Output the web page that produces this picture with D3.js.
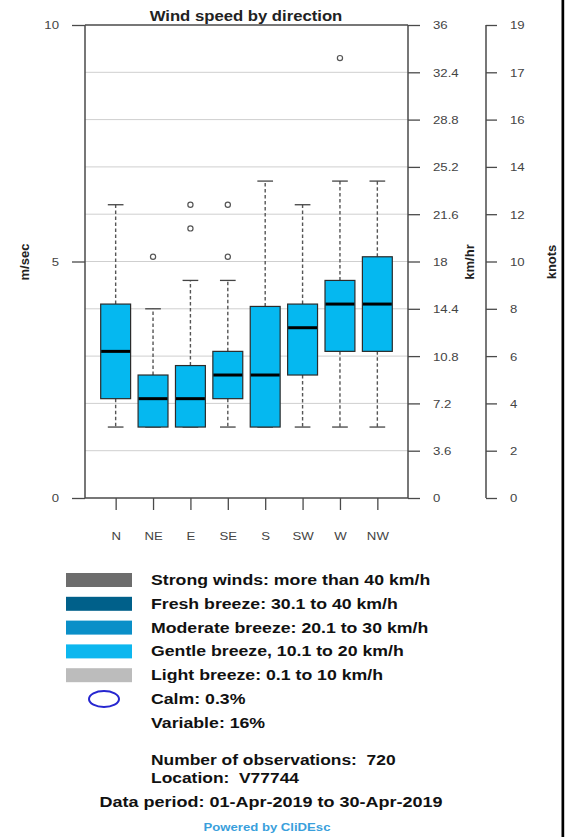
<!DOCTYPE html>
<html>
<head>
<meta charset="utf-8">
<script src="https://cdn.jsdelivr.net/npm/d3@7"></script>
<style>
  html, body { margin: 0; padding: 0; background: #fff; }
  svg { display: block; font-family: "Liberation Sans", Arial, Helvetica, sans-serif; }
  text { white-space: pre; }
</style>
</head>
<body>
<svg id="chart" width="573" height="837"></svg>
<script>
// ---------- data ----------
const categories = ["N", "NE", "E", "SE", "S", "SW", "W", "NW"];
const whiskerLow = [1.5, 1.5, 1.5, 1.5, 1.5, 1.5, 1.5, 1.5];
const q1 = [2.1, 1.5, 1.5, 2.1, 1.5, 2.6, 3.1, 3.1];
const medians = [3.1, 2.1, 2.1, 2.6, 2.6, 3.6, 4.1, 4.1];
const q3 = [4.1, 2.6, 2.8, 3.1, 4.05, 4.1, 4.6, 5.1];
const whiskerHigh = [6.2, 4.0, 4.6, 4.6, 6.7, 6.2, 6.7, 6.7];
const outliers = [[], [5.1], [5.7, 6.2], [5.1, 6.2], [], [], [9.3], []];

const msTicks = [0, 5, 10];
const kmhTickValues = [0, 1, 2, 3, 4, 5, 6, 7, 8, 9, 10];          // in m/s
const kmhTickLabels = ["0", "3.6", "7.2", "10.8", "14.4", "18", "21.6", "25.2", "28.8", "32.4", "36"];
const knotTickLabels = ["0", "2", "4", "6", "8", "10", "12", "14", "16", "17", "19"];

const legendLabels = [
  "Strong winds: more than 40 km/h",
  "Fresh breeze: 30.1 to 40 km/h",
  "Moderate breeze: 20.1 to 30 km/h",
  "Gentle breeze, 10.1 to 20 km/h",
  "Light breeze: 0.1 to 10 km/h"
];
const legendColors = ["#6d6d6d", "#00608a", "#0a8fc8", "#0db7ef", "#bcbcbc"];
const calmText = "Calm: 0.3%";
const variableText = "Variable: 16%";
const obsText = "Number of observations:  720";
const locText = "Location:  V77744";
const periodText = "Data period: 01-Apr-2019 to 30-Apr-2019";
const poweredText = "Powered by CliDEsc";
const titleText = "Wind speed by direction";

// ---------- helpers ----------
function stretch(sel, factor) {
  sel.each(function () {
    const w = this.getComputedTextLength();
    this.setAttribute("textLength", (w * factor).toFixed(1));
    this.setAttribute("lengthAdjust", "spacingAndGlyphs");
  });
  return sel;
}

const svg = d3.select("#chart");
const L = 85, R = 408, T = 25, B = 498;
const x = d3.scaleLinear().domain([0.18, 8.82]).range([L, R]);
const y = d3.scaleLinear().domain([0, 10]).range([B, T]);
const boxW = x(1.8) - x(1);
const stapleW = x(1.42) - x(1);

const axisColor = "#4a4a4a";
const tickColor = "#444";

// gridlines
svg.append("g").selectAll("line").data(kmhTickValues.filter(v => v > 0 && v < 10)).join("line")
  .attr("x1", L).attr("x2", R).attr("y1", d => y(d)).attr("y2", d => y(d))
  .attr("stroke", "#cfcfcf").attr("stroke-width", 1);

// boxes
const data = categories.map((c, i) => ({
  c, i: i + 1, lo: whiskerLow[i], q1: q1[i], med: medians[i], q3: q3[i], hi: whiskerHigh[i], out: outliers[i]
}));
const g = svg.append("g");
const bx = g.selectAll("g.box").data(data).join("g").attr("class", "box");
// whiskers
bx.append("line").attr("x1", d => x(d.i)).attr("x2", d => x(d.i))
  .attr("y1", d => y(d.q3)).attr("y2", d => y(d.hi))
  .attr("stroke", "#555").attr("stroke-width", 1.4).attr("stroke-dasharray", "3.5,2.5");
bx.append("line").attr("x1", d => x(d.i)).attr("x2", d => x(d.i))
  .attr("y1", d => y(d.q1)).attr("y2", d => y(d.lo))
  .attr("stroke", "#555").attr("stroke-width", 1.4).attr("stroke-dasharray", "3.5,2.5");
// staples
bx.append("line").attr("x1", d => x(d.i) - stapleW / 2).attr("x2", d => x(d.i) + stapleW / 2)
  .attr("y1", d => y(d.hi)).attr("y2", d => y(d.hi)).attr("stroke", "#444").attr("stroke-width", 1.3);
bx.append("line").attr("x1", d => x(d.i) - stapleW / 2).attr("x2", d => x(d.i) + stapleW / 2)
  .attr("y1", d => y(d.lo)).attr("y2", d => y(d.lo)).attr("stroke", "#444").attr("stroke-width", 1.3);
// box
bx.append("rect").attr("x", d => x(d.i) - boxW / 2).attr("width", boxW)
  .attr("y", d => y(d.q3)).attr("height", d => y(d.q1) - y(d.q3))
  .attr("fill", "#05b8f0").attr("stroke", "#2b2b2b").attr("stroke-width", 1.2);
// median
bx.append("line").attr("x1", d => x(d.i) - boxW / 2 + 0.5).attr("x2", d => x(d.i) + boxW / 2 - 0.5)
  .attr("y1", d => y(d.med)).attr("y2", d => y(d.med)).attr("stroke", "#000").attr("stroke-width", 3);
// outliers
bx.selectAll("circle").data(d => d.out.map(v => ({ i: d.i, v }))).join("circle")
  .attr("cx", d => x(d.i)).attr("cy", d => y(d.v)).attr("r", 2.6)
  .attr("fill", "none").attr("stroke", "#555").attr("stroke-width", 1.2);

// frame / axes lines
const frame = svg.append("g").attr("stroke", axisColor).attr("stroke-width", 1.5);
frame.append("line").attr("x1", L).attr("x2", L).attr("y1", T).attr("y2", B);
frame.append("line").attr("x1", R).attr("x2", R).attr("y1", T).attr("y2", B);
frame.append("line").attr("x1", L).attr("x2", R).attr("y1", T).attr("y2", T);
frame.append("line").attr("x1", L).attr("x2", R).attr("y1", B).attr("y2", B);

// left axis (m/s)
const leftAx = svg.append("g").attr("transform", `translate(${L},0)`)
  .call(d3.axisLeft(y).tickValues(msTicks).tickSize(13).tickPadding(13).tickFormat(d3.format("d")));
leftAx.select(".domain").remove();
leftAx.selectAll("line").attr("stroke", axisColor).attr("stroke-width", 1.3);
leftAx.selectAll("text").attr("fill", tickColor).attr("font-size", 11).attr("font-family", "Liberation Sans, Arial").attr("dy", "0.36em");
stretch(leftAx.selectAll("text"), 1.2);

// right axis (km/hr)
const kmAx = svg.append("g").attr("transform", `translate(${R},0)`)
  .call(d3.axisRight(y).tickValues(kmhTickValues).tickSize(12).tickPadding(13)
    .tickFormat((d, i) => kmhTickLabels[i]));
kmAx.select(".domain").remove();
kmAx.selectAll("line").attr("stroke", axisColor).attr("stroke-width", 1.3);
kmAx.selectAll("text").attr("fill", tickColor).attr("font-size", 11).attr("font-family", "Liberation Sans, Arial").attr("dy", "0.36em");
stretch(kmAx.selectAll("text"), 1.2);

// knots axis
const KX = 486;
const knAx = svg.append("g").attr("transform", `translate(${KX},0)`)
  .call(d3.axisRight(y).tickValues(kmhTickValues).tickSize(11).tickPadding(13)
    .tickFormat((d, i) => knotTickLabels[i]));
knAx.select(".domain").remove();
knAx.append("line").attr("x1", 0).attr("x2", 0).attr("y1", T).attr("y2", B).attr("stroke", axisColor).attr("stroke-width", 1.5);
knAx.selectAll(".tick line").attr("stroke", axisColor).attr("stroke-width", 1.3);
knAx.selectAll("text").attr("fill", tickColor).attr("font-size", 11).attr("font-family", "Liberation Sans, Arial").attr("dy", "0.36em");
stretch(knAx.selectAll("text"), 1.2);

// x axis
const xAx = svg.append("g").attr("transform", `translate(0,${B})`)
  .call(d3.axisBottom(x).tickValues(d3.range(1, categories.length + 1)).tickSize(12).tickPadding(22)
    .tickFormat((d, i) => categories[i]));
xAx.select(".domain").remove();
xAx.selectAll("line").attr("stroke", axisColor).attr("stroke-width", 1.3);
xAx.selectAll("text").attr("fill", tickColor).attr("font-size", 11).attr("font-family", "Liberation Sans, Arial");
stretch(xAx.selectAll("text"), 1.2);

// axis titles
function vTitle(tx, ty, t) {
  svg.append("text").attr("transform", `translate(${tx},${ty}) rotate(-90)`)
    .attr("text-anchor", "middle").attr("font-weight", "bold").attr("font-size", 13)
    .attr("fill", "#222").text(t);
}
vTitle(29, 262, "m/sec");
vTitle(474, 262, "km/hr");
vTitle(556, 262, "knots");

// title
stretch(svg.append("text").attr("x", 246).attr("y", 20.5).attr("text-anchor", "middle")
  .attr("font-weight", "bold").attr("font-size", 14.5).attr("fill", "#222").text(titleText), 1.15);

// legend
const lg = svg.append("g");
const rowY = i => 580 + i * 23.8;
lg.selectAll("rect").data(legendColors).join("rect")
  .attr("x", 66).attr("width", 66).attr("y", (d, i) => rowY(i) - 7).attr("height", 14)
  .attr("fill", d => d);
const lt = lg.selectAll("text.leg").data(legendLabels.concat([calmText, variableText])).join("text")
  .attr("class", "leg").attr("x", 151).attr("y", (d, i) => rowY(i) + 5)
  .attr("font-weight", "bold").attr("font-size", 14.5).attr("fill", "#111").text(d => d);
stretch(lt, 1.22);
lg.append("ellipse").attr("cx", 104).attr("cy", rowY(5)).attr("rx", 15).attr("ry", 8)
  .attr("fill", "none").attr("stroke", "#2626d0").attr("stroke-width", 2);

// footer
stretch(svg.append("text").attr("x", 151).attr("y", 765).attr("font-weight", "bold").attr("font-size", 14.5)
  .attr("fill", "#111").text(obsText), 1.2);
stretch(svg.append("text").attr("x", 151).attr("y", 782.5).attr("font-weight", "bold").attr("font-size", 14.5)
  .attr("fill", "#111").text(locText), 1.2);
stretch(svg.append("text").attr("x", 271).attr("y", 807).attr("text-anchor", "middle").attr("font-weight", "bold")
  .attr("font-size", 15).attr("fill", "#111").text(periodText), 1.2);
stretch(svg.append("text").attr("x", 267).attr("y", 831).attr("text-anchor", "middle").attr("font-weight", "bold")
  .attr("font-size", 10.5).attr("fill", "#3a9fdc").text(poweredText), 1.25);

// right black border
svg.append("rect").attr("x", 561.5).attr("y", 0).attr("width", 2.7).attr("height", 837).attr("fill", "#000");
</script>
</body>
</html>
